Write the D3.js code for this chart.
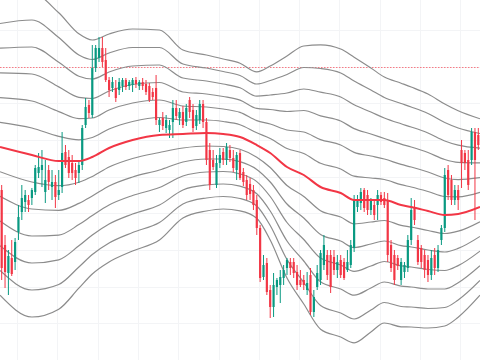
<!DOCTYPE html>
<html><head><meta charset="utf-8">
<script src="https://cdn.jsdelivr.net/npm/d3@7"></script>
<style>html,body{margin:0;padding:0;background:#fff;}svg{display:block;}</style>
</head><body>
<svg id="chart" width="480" height="360"></svg>
<script>
// OHLC candles [open, high, low, close]
const candles = [
[810,815,720,732],[755,765,712,728],[727,750,705,744],[742,760,724,726],[738,762,730,758],
[768,795,760,783],[788,815,780,802],[798,810,788,805],[800,805,788,795],[802,812,795,810],
[808,835,805,832],[827,847,822,833],[830,850,813,835],[808,840,797,820],[830,835,810,818],
[813,830,800,818],[818,825,792,803],[805,830,800,810],[813,868,807,847],[848,855,832,835],
[843,850,822,827],[837,845,820,827],[830,837,815,822],[827,840,817,835],[835,875,830,872],
[875,902,872,893],[895,900,882,887],[885,955,882,932],[932,955,928,952],[942,963,938,952],
[952,963,933,938],[940,952,918,920],[920,923,903,910],[912,923,908,918],[912,920,898,902],
[910,922,905,918],[914,922,908,920],[920,922,910,913],[914,920,910,918],[915,922,908,920],
[920,923,912,916],[914,920,910,918],[918,922,910,914],[916,920,905,908],[914,917,898,900],
[908,912,900,903],[912,925,875,880],[875,882,868,880],[882,888,870,874],[872,885,867,880],
[870,880,862,875],[878,900,862,892],[892,900,880,884],[882,892,875,888],[888,894,872,875],
[878,896,874,892],[900,903,882,888],[890,896,868,872],[874,890,870,885],[880,900,876,896],
[896,900,872,878],[878,882,835,840],[850,857,810,815],[840,850,830,833],[815,845,812,837],
[837,852,832,845],[848,852,835,840],[840,857,835,853],[850,855,838,842],[842,850,828,832],
[830,848,820,845],[847,850,820,822],[828,832,814,818],[820,825,800,805],[816,822,800,806],
[810,815,790,795],[800,805,765,772],[772,775,718,722],[723,745,720,735],[737,742,705,708],
[710,715,682,693],[693,727,683,715],[713,722,705,720],[715,730,697,723],[722,735,715,730],
[732,742,725,740],[738,742,725,732],[738,742,722,727],[728,735,710,715],[720,730,713,715],
[720,725,710,715],[710,728,705,717],[725,732,685,688],[688,710,683,703],[713,735,710,727],
[720,750,715,747],[735,765,730,755],[745,750,720,725],[745,750,707,713],[743,750,725,730],
[730,745,722,738],[740,745,722,725],[738,742,720,722],[730,750,728,738],[735,760,732,755],
[752,805,748,800],[793,805,788,800],[797,812,790,808],[810,812,788,792],[805,810,785,790],
[790,802,785,800],[795,800,780,785],[795,810,780,805],[805,808,795,798],[802,808,792,795],
[800,807,738,745],[755,760,728,732],[745,750,715,720],[742,745,730,734],[720,742,715,738],
[728,738,722,735],[732,765,728,760],[760,802,755,790],[793,800,775,780],[760,765,735,738],
[752,755,732,738],[745,750,722,730],[740,745,718,725],[725,750,720,742],[745,752,725,732],
[732,755,728,750],[760,775,755,772],[772,832,768,825],[830,835,800,805],[820,825,795,800],
[800,815,795,810],[810,815,790,800],[850,860,812,837],[847,850,830,837],[840,850,810,815],
[840,872,835,868],[868,872,780,840],[865,872,850,855]
];
// indicator samples: bar index, basis (middle line) and band step (deviation)
const bandIdx = [-0.5, 9, 17, 23, 27, 32, 39, 47, 54, 61, 66, 71, 76, 80, 85, 90, 95, 101, 105, 110, 114, 119, 122, 127, 132, 136, 142.5];
const basis   = [853, 845, 839, 839, 843, 852, 860, 865, 866, 867, 866, 863, 855, 847, 833, 825, 813, 807, 800, 800, 800, 795, 793, 789, 785, 786, 793];
const dev     = [24.7, 27, 24.7, 21.2, 19.5, 19, 18.5, 17.5, 14, 13, 12.5, 12.3, 12.2, 14.5, 18.5, 21.5, 23.7, 24, 23.8, 22, 20.5, 20.3, 20, 19.5, 18.5, 17.2, 14.7];
const multipliers = [1, 2, 3, 4, 5, 6];
// grid levels
const gridPrices = [970, 933, 897, 860, 823, 787, 750, 713, 677];
const gridBars = [4.6, 16.6, 28.6, 40.6, 52.6, 64.6, 76.6, 88.6, 100.6, 112.6, 124.6, 136.6];
const refLevel = 933;

const W = 480, H = 360;
const svg = d3.select('#chart');
const x = d3.scaleLinear().domain([-0.5, candles.length - 0.5]).range([0, W]);
const y = d3.scaleLinear().domain([640, 1000]).range([H, 0]);
const step = x(1) - x(0);

const grid = svg.append('g');
grid.selectAll('line.h').data(gridPrices).join('line')
  .attr('x1', 0).attr('x2', W).attr('y1', d => Math.round(y(d)) + 0.5).attr('y2', d => Math.round(y(d)) + 0.5)
  .attr('stroke', '#f3f4f6').attr('stroke-width', 1);
grid.selectAll('line.v').data(gridBars).join('line')
  .attr('y1', 0).attr('y2', H).attr('x1', d => Math.round(x(d)) + 0.5).attr('x2', d => Math.round(x(d)) + 0.5)
  .attr('stroke', '#f3f4f6').attr('stroke-width', 1);

// dotted reference level drawn as small dots
const dotXs = d3.range(0, W, 3);
svg.append('g').selectAll('rect').data(dotXs).join('rect')
  .attr('x', d => d).attr('y', Math.round(y(refLevel)))
  .attr('width', 1.5).attr('height', 1).attr('fill', '#f77a84');

const line = d3.line().x(d => x(d[0])).y(d => y(d[1])).curve(d3.curveMonotoneX);
const bands = svg.append('g');
multipliers.forEach(k => {
  [1, -1].forEach(sign => {
    const pts = bandIdx.map((b, j) => [b, basis[j] + sign * k * dev[j]]);
    bands.append('path').attr('d', line(pts)).attr('fill', 'none')
      .attr('stroke', '#8c8c8c').attr('stroke-width', 1.2);
  });
});

const cg = svg.append('g');
candles.forEach((c, i) => {
  const [o, h, l, cl] = c;
  const col = cl >= o ? '#089981' : '#f23645';
  const cx = x(i);
  cg.append('line').attr('x1', cx).attr('x2', cx).attr('y1', y(h)).attr('y2', y(l))
    .attr('stroke', col).attr('stroke-width', 1);
  const top = y(Math.max(o, cl)), bot = y(Math.min(o, cl));
  const bw = step * 0.65;
  cg.append('rect').attr('x', cx - bw / 2).attr('y', top).attr('width', bw)
    .attr('height', Math.max(1, bot - top)).attr('fill', col);
});

svg.append('path')
  .attr('d', line(bandIdx.map((b, j) => [b, basis[j]])))
  .attr('fill', 'none').attr('stroke', '#f23645').attr('stroke-width', 2);
</script>
</body></html>
